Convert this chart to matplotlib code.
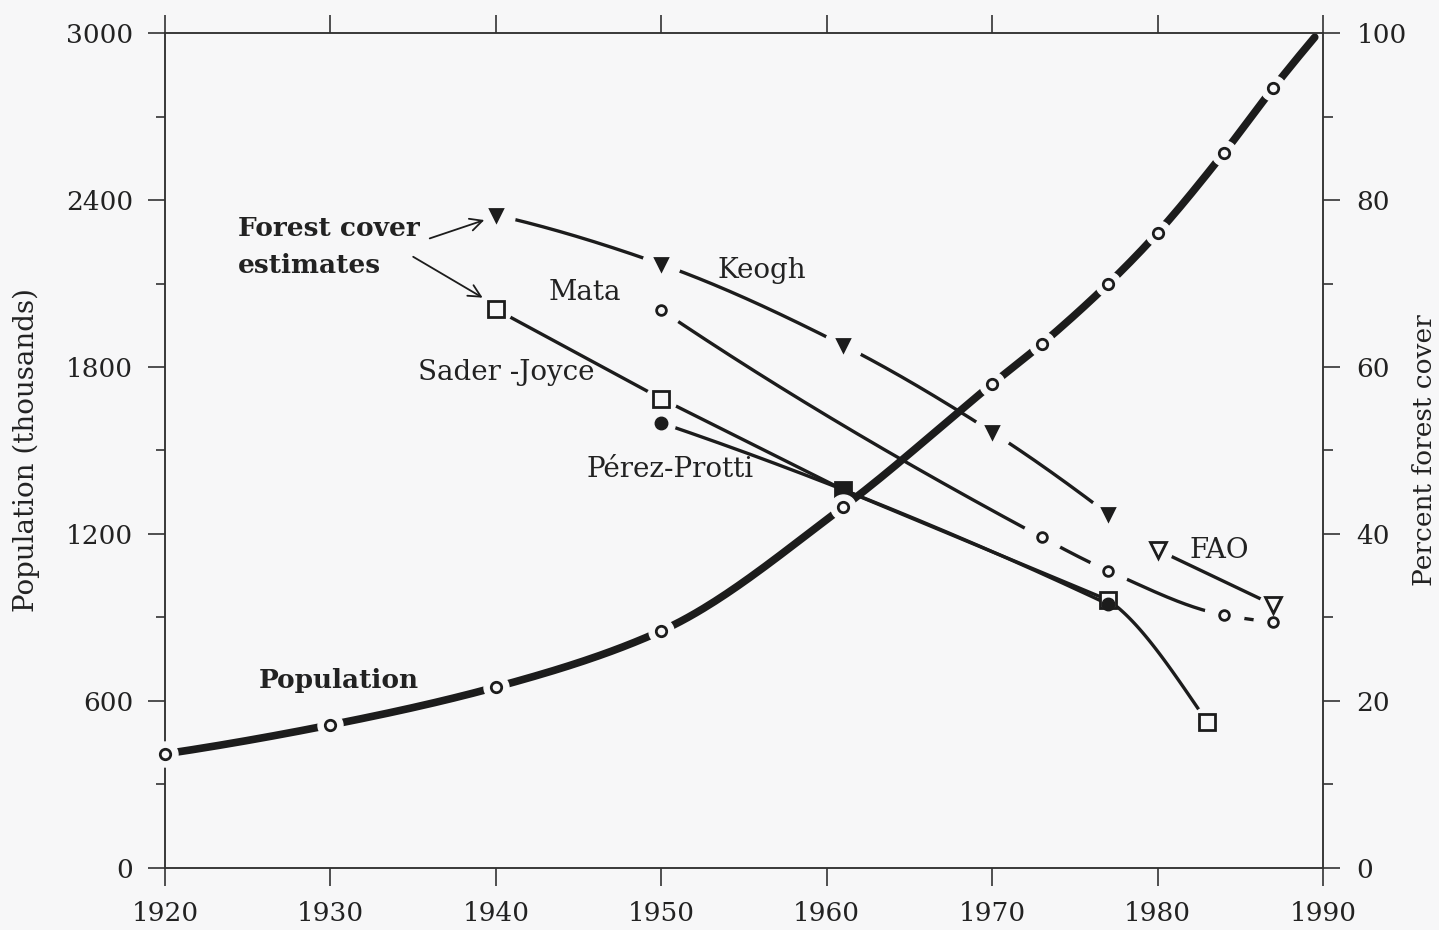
import numpy as np
import matplotlib.pyplot as plt

# population (thousands), left axis
pop_years = [1920, 1930, 1940, 1950, 1961, 1970, 1973, 1977, 1980, 1984, 1987, 1989.5]
pop_vals = [410, 514, 650, 852, 1297, 1739, 1883, 2098, 2282, 2569, 2803, 2985]
pop_marked = 11  # last point has no marker

# percent forest cover, right axis
keogh_years = [1940, 1950, 1961, 1970, 1977]
keogh_pct = [78.2, 72.3, 62.6, 52.2, 42.4]

mata_years = [1950, 1973, 1977, 1984, 1987]
mata_pct = [66.8, 39.6, 35.6, 30.3, 29.5]

sader_years = [1940, 1950, 1961, 1977, 1983]
sader_pct = [66.9, 56.2, 45.3, 32.1, 17.5]

perez_years = [1950, 1961, 1977]
perez_pct = [53.3, 45.3, 31.6]
perez_marks = ['o', 's', 'o']

fao_years = [1980, 1987]
fao_pct = [38.1, 31.5]

bg = '#f7f7f8'
ink = '#1c1c1c'
plt.rcParams['font.family'] = ['DejaVu Serif']


def smooth(x, y, n=300):
    # monotone cubic (pchip) through the points, just for drawing
    x = np.asarray(x, float)
    y = np.asarray(y, float)
    if len(x) < 3:
        return x, y
    h = np.diff(x)
    d = np.diff(y) / h
    m = np.zeros_like(y)
    for k in range(1, len(x) - 1):
        if d[k - 1] * d[k] > 0:
            w1 = 2 * h[k] + h[k - 1]
            w2 = h[k] + 2 * h[k - 1]
            m[k] = (w1 + w2) / (w1 / d[k - 1] + w2 / d[k])
    m0 = ((2 * h[0] + h[1]) * d[0] - h[0] * d[1]) / (h[0] + h[1])
    if np.sign(m0) != np.sign(d[0]):
        m0 = 0
    m[0] = m0
    me = ((2 * h[-1] + h[-2]) * d[-1] - h[-1] * d[-2]) / (h[-1] + h[-2])
    if np.sign(me) != np.sign(d[-1]):
        me = 0
    m[-1] = me
    xs = np.linspace(x[0], x[-1], n)
    i = np.clip(np.searchsorted(x, xs) - 1, 0, len(x) - 2)
    t = (xs - x[i]) / h[i]
    ys = ((2 * t**3 - 3 * t**2 + 1) * y[i] + (t**3 - 2 * t**2 + t) * h[i] * m[i]
          + (-2 * t**3 + 3 * t**2) * y[i + 1] + (t**3 - t**2) * h[i] * m[i + 1])
    return xs, ys


fig = plt.figure(figsize=(14.39, 9.30), dpi=100, facecolor=bg)
ax1 = fig.add_axes([0.1147, 0.0667, 0.8047, 0.8978])
ax2 = ax1.twinx()
ax1.set_zorder(ax2.get_zorder() + 1)
ax1.patch.set_visible(False)
ax2.patch.set_visible(False)


def marks(ax, xs, ys, marker, filled, ms, halo):
    ax.plot(xs, ys, ls='none', marker='o', ms=halo, mfc=bg, mec=bg, zorder=3, clip_on=False)
    ax.plot(xs, ys, ls='none', marker=marker, ms=ms, mfc=ink if filled else bg,
            mec=ink, mew=2, zorder=4, clip_on=False)


# Keogh
sx, sy = smooth(keogh_years, keogh_pct)
ax2.plot(sx, sy, color=ink, lw=2.4, zorder=2)
marks(ax2, keogh_years, keogh_pct, 'v', True, 9, 27)

# Mata
sx, sy = smooth(mata_years, mata_pct)
ax2.plot(sx, sy, color=ink, lw=2.4, zorder=2)
marks(ax2, mata_years, mata_pct, 'o', False, 7, 28)

# Sader-Joyce: straight up to 1977, curved tail to 1983
ax2.plot(sader_years[:4], sader_pct[:4], color=ink, lw=2.4, zorder=2)
sx, sy = smooth(sader_years[2:], sader_pct[2:])
tail = sx >= sader_years[3]
ax2.plot(sx[tail], sy[tail], color=ink, lw=2.4, zorder=2)
ax2.plot(sader_years[:2] + sader_years[4:], sader_pct[:2] + sader_pct[4:], ls='none',
         marker='o', ms=22, mfc=bg, mec=bg, zorder=3)
ax2.plot(sader_years, sader_pct, ls='none', marker='s', ms=11, mfc=bg, mec=ink, mew=2, zorder=4)

# Pérez-Protti
sx, sy = smooth(perez_years, perez_pct)
ax2.plot(sx, sy, color=ink, lw=2.4, zorder=2)
ax2.plot(perez_years[:1], perez_pct[:1], ls='none', marker='o', ms=20, mfc=bg, mec=bg, zorder=3)
for yr, pc, mk in zip(perez_years, perez_pct, perez_marks):
    ax2.plot(yr, pc, marker=mk, ms=9 if mk == 'o' else 10, mfc=ink, mec=ink, zorder=5)

# FAO
ax2.plot(fao_years, fao_pct, color=ink, lw=2.4, zorder=2)
marks(ax2, fao_years, fao_pct, 'v', False, 11, 20)

# population line
sx, sy = smooth(pop_years, pop_vals)
ax1.plot(sx, sy, color=ink, lw=5.5, solid_capstyle='round', zorder=2, clip_on=False)
ax1.plot(pop_years[:pop_marked], pop_vals[:pop_marked], ls='none', marker='o', ms=18,
         mfc=bg, mec=bg, zorder=3, clip_on=False)
ax1.plot(pop_years[:pop_marked], pop_vals[:pop_marked], ls='none', marker='o', ms=7.5,
         mfc=bg, mec=ink, mew=2, zorder=4, clip_on=False)

# axes
ax1.set_xlim(1920, 1990)
ax1.set_ylim(0, 3000)
ax2.set_ylim(0, 100)
ax1.set_xticks(range(1920, 1991, 10))
ax1.set_yticks(range(0, 3001, 600))
ax1.set_yticks(range(300, 3000, 600), minor=True)
ax2.set_yticks(range(0, 101, 20))
ax2.set_yticks(range(10, 100, 20), minor=True)

for ax in (ax1, ax2):
    for s in ax.spines.values():
        s.set_linewidth(1.1)
        s.set_color('#333333')

ax1.tick_params(axis='x', which='major', direction='out', length=13, width=1.1,
                top=True, labeltop=False, labelsize=19, pad=11, colors='#222222')
ax1.tick_params(axis='y', which='major', direction='out', length=12, width=1.1,
                labelsize=19, pad=11, colors='#222222')
ax1.tick_params(axis='y', which='minor', direction='out', length=6.5, width=1.1,
                colors='#222222')
ax2.tick_params(axis='y', which='major', direction='out', length=12, width=1.1,
                labelsize=19, pad=12, colors='#222222')
ax2.tick_params(axis='y', which='minor', direction='out', length=7, width=1.1,
                colors='#222222')

ax1.set_ylabel('Population (thousands)', fontsize=20, color='#222222')
ax1.yaxis.set_label_coords(-0.108, 0.5)
ax2.set_ylabel('Percent forest cover', fontsize=19, color='#222222')
ax2.yaxis.set_label_coords(1.077, 0.5)

# labels
lab = dict(fontsize=20, color='#222222', ha='center', va='center', zorder=6)
ax2.text(1956.1, 71.6, 'Keogh', **lab)
ax2.text(1945.4, 68.9, 'Mata', **lab)
ax2.text(1940.6, 59.4, 'Sader -Joyce', **lab)
ax2.text(1950.5, 47.7, 'Pérez-Protti', **lab)
ax2.text(1983.7, 38.0, 'FAO', **lab)
bold = dict(fontsize=19, fontweight='bold', color='#222222', va='center')
ax2.text(1930.5, 22.5, 'Population', ha='center', **bold)
ax2.text(1924.4, 76.6, 'Forest cover', ha='left', **bold)
ax2.text(1924.4, 72.2, 'estimates', ha='left', **bold)
arrow = dict(arrowstyle='->', color=ink, lw=1.3, mutation_scale=22, shrinkA=0, shrinkB=0)
ax2.annotate('', xy=(1939.3, 77.6), xytext=(1936.0, 75.4), arrowprops=arrow)
ax2.annotate('', xy=(1939.2, 68.3), xytext=(1935.0, 73.2), arrowprops=arrow)

fig.savefig('out.png', dpi=100, facecolor=bg)
